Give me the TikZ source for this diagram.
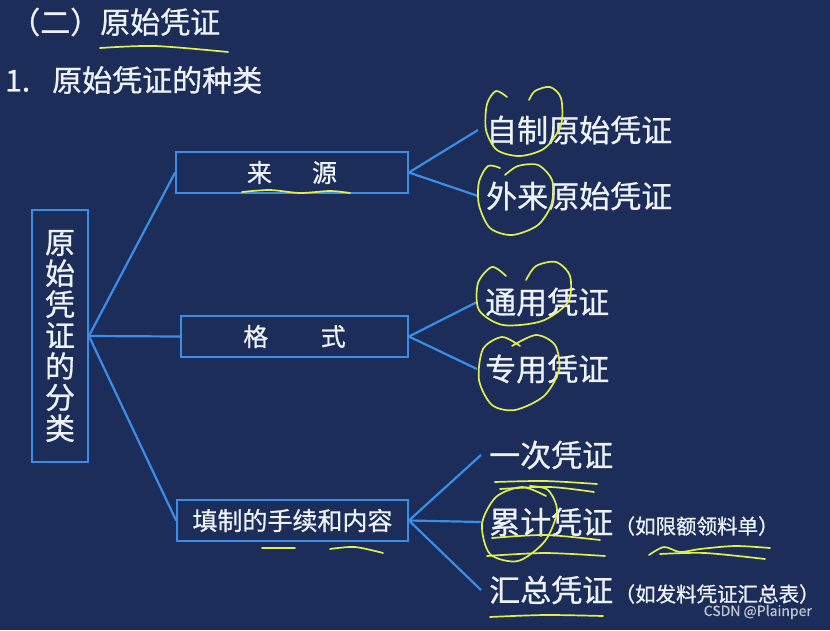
\documentclass[tikz,border=0pt]{standalone}
\usepackage{fontspec}
\setmainfont{Noto Sans CJK SC}[FakeBold=0.7]
\usetikzlibrary{positioning}
\definecolor{slidebg}{RGB}{27,45,88}
\definecolor{boxblue}{RGB}{58,142,232}
\definecolor{inkyellow}{RGB}{226,238,78}
\definecolor{chalk}{RGB}{238,242,250}

\begin{document}
\begin{tikzpicture}[x=1pt, y=-1pt,
  catbox/.style={draw=boxblue, line width=1.8pt, text=chalk, inner sep=0pt, minimum height=41pt,
                 font=\fontsize{25}{30}\selectfont},
  leaf/.style={text=chalk, anchor=west, inner xsep=8pt, inner ysep=2pt, font=\fontsize{31}{36}\selectfont},
  note/.style={text=chalk, inner sep=0pt, font=\fontsize{20.5}{24}\selectfont},
  heading/.style={text=chalk, anchor=west, inner sep=0pt, font=\fontsize{30}{36}\selectfont},
  branch/.style={draw=boxblue, line width=2.2pt},
  ink/.style={draw=inkyellow, line width=1.7pt, line cap=round, line join=round}]
\fill[slidebg] (0,0) rectangle (830,630);
\useasboundingbox (0,0) rectangle (830,630);

\node[heading] (head) at (10,22) {（二）原始凭证};
\node[heading] (sub) at (5,80) {1.\hspace{22pt}原始凭证的种类};

\node[catbox, minimum width=56pt, minimum height=252pt, align=center,
      font=\fontsize{30}{31}\selectfont] (root) at (60,336) {原\\始\\凭\\证\\的\\分\\类};
\node[catbox, minimum width=232pt] (src) at (292,172.5) {来\hspace{1.6em}源};
\node[catbox, minimum width=227pt] (fmt) at (294.5,336.5) {格\hspace{2.1em}式};
\node[catbox, minimum width=231pt] (proc) at (292.5,520.5) {填制的手续和内容};

\node[leaf] (zz) at (478,130) {自制原始凭证};
\node[leaf] (wl) at (478,196) {外来原始凭证};
\node[leaf] (ty) at (477,302) {通用凭证};
\node[leaf] (zy) at (477,369) {专用凭证};
\node[leaf] (yc) at (481,455) {一次凭证};
\node[leaf] (lj) at (481,522) {累计凭证};
\node[leaf] (hz) at (481,590) {汇总凭证};
\node[note, anchor=base west] (ljnote) at ([xshift=-7pt]lj.base east) {（如限额领料单）};
\node[note, anchor=base west] (hznote) at ([xshift=-7pt]hz.base east) {（如发料凭证汇总表）};

\foreach \c in {src,fmt,proc} \draw[branch] (root.east) -- (\c.west);
\foreach \a/\b in {src/zz,src/wl,fmt/ty,fmt/zy,proc/yc,proc/lj,proc/hz} \draw[branch] (\a.east) -- (\b.west);

% hand marks
\draw[ink] plot[smooth] coordinates {(100,48) (155,46) (228,52)};
\draw[ink] plot[smooth] coordinates {(242,192) (270,190) (300,193) (330,191) (350,193)};
\draw[ink] (262,548) -- (295,548);
\draw[ink] plot[smooth] coordinates {(330,549) (355,547) (383,553)};
\draw[ink] plot[smooth] coordinates {(507,97) (496,91) (487,104) (486,130) (497,150) (520,156) (545,148) (561,125) (561,98) (550,87) (535,91) (529,100)};
\draw[ink] plot[smooth] coordinates {(500,168) (488,166) (479,182) (479,205) (490,228) (512,235) (538,225) (552,203) (552,180) (538,165) (518,166) (505,175)};
\draw[ink] plot[smooth] coordinates {(506,276) (492,267) (478,283) (479,310) (503,325) (542,321) (568,302) (570,276) (556,262) (536,266) (526,280)};
\draw[ink] plot[smooth] coordinates {(520,346) (502,337) (483,349) (479,380) (492,405) (515,410) (544,396) (559,370) (555,345) (536,335) (512,346)};
\draw[ink] plot[smooth] coordinates {(495,482) (545,481) (597,484)};
\draw[ink] plot[smooth] coordinates {(500,489) (550,487) (594,492)};
\draw[ink] plot[smooth] coordinates {(546,496) (522,487) (496,497) (482,524) (490,554) (518,561) (545,541) (557,511) (548,490) (530,486)};
\draw[ink] plot[smooth] coordinates {(492,538) (545,535) (600,540)};
\draw[ink] plot[smooth] coordinates {(487,556) (545,553) (605,556)};
\draw[ink] plot[smooth] coordinates {(649,555) (664,547) (680,552) (700,549) (735,546) (770,548)};
\draw[ink] plot[smooth] coordinates {(660,554) (705,553) (765,559)};
\draw[ink] plot[smooth] coordinates {(490,617) (545,615) (603,616)};

\node[anchor=east, text=white!72!slidebg, inner sep=0pt, font=\fontsize{14}{16}\selectfont] (mark) at (812,612) {CSDN @Plainper};
\end{tikzpicture}
\end{document}
